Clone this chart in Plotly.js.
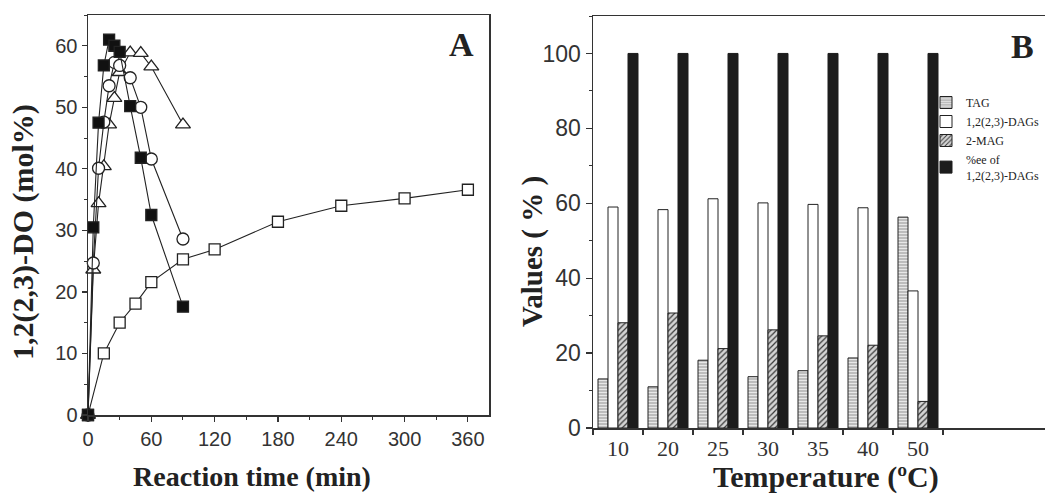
<!DOCTYPE html>
<html>
<head>
<meta charset="utf-8">
<script src="https://cdn.plot.ly/plotly-3.0.1.min.js"></script>
<style>html,body{margin:0;padding:0;background:#fff;}#chart{width:1045px;height:496px;}</style>
</head>
<body>
<div id="chart"></div>
<script>
// ---- Panel A data ----
const timeOpenSquare = [0, 15, 30, 45, 60, 90, 120, 180, 240, 300, 360];
const valOpenSquare  = [0, 10, 15, 18.1, 21.6, 25.3, 26.9, 31.4, 34, 35.2, 36.6];
const timeFilledSquare = [0, 5, 10, 15, 20, 25, 30, 40, 50, 60, 90];
const valFilledSquare  = [0, 30.5, 47.5, 56.8, 61, 60, 59, 50.2, 41.8, 32.5, 17.6];
const timeCircle = [0, 5, 10, 15, 20, 25, 30, 40, 50, 60, 90];
const valCircle  = [0, 24.7, 40.1, 47.6, 53.5, 57.3, 56.8, 54.8, 50, 41.6, 28.6];
const timeTriangle = [0, 5, 10, 15, 20, 25, 30, 40, 50, 60, 90];
const valTriangle  = [0, 23.6, 34.4, 40.4, 47.2, 51.5, 55.7, 58.9, 58.8, 56.6, 47.2];

// ---- Panel B data ----
const temperatures = ['10', '20', '25', '30', '35', '40', '50'];
const valTAG  = [13.1, 11, 18.1, 13.7, 15.3, 18.7, 56.3];
const valDAG  = [59, 58.3, 61.2, 60.1, 59.7, 58.8, 36.6];
const valMAG  = [28.1, 30.7, 21.2, 26.2, 24.6, 22.1, 7.1];
const valEE   = [100, 100, 100, 100, 100, 100, 100];

const W = 1045, H = 496;
const mL = 88, mR = 0, mT = 15, mB = 68;
const PW = W - mL - mR, PH = H - mT - mB;
const px = x => (x - mL) / PW;
const py = y => (H - mB - y) / PH;

const lineC = '#222';
function lineTrace(x, y, symbol, fill, size) {
  return {
    x: x, y: y, type: 'scatter', mode: 'lines+markers', xaxis: 'x', yaxis: 'y',
    showlegend: false, cliponaxis: false, hoverinfo: 'skip',
    line: {color: lineC, width: 1.1},
    marker: {symbol: symbol, size: size, color: fill, line: {color: lineC, width: 1.3}}
  };
}

const traces = [
  lineTrace(timeOpenSquare, valOpenSquare, 'square', '#fff', 11),
  lineTrace(timeTriangle, valTriangle, 'triangle-up', '#fff', 13),
  lineTrace(timeCircle, valCircle, 'circle', '#fff', 12),
  lineTrace(timeFilledSquare, valFilledSquare, 'square', '#111', 11),
  {
    x: temperatures, y: valTAG, type: 'bar', name: 'TAG', xaxis: 'x2', yaxis: 'y2',
    marker: {color: '#bdbdbd', line: {color: '#222', width: 1},
      pattern: {shape: '-', bgcolor: '#bdbdbd', fgcolor: '#ececec', size: 3, solidity: 0.3, fillmode: 'replace'}}
  },
  {
    x: temperatures, y: valDAG, type: 'bar', name: '1,2(2,3)-DAGs', xaxis: 'x2', yaxis: 'y2',
    marker: {color: '#ffffff', line: {color: '#222', width: 1}}
  },
  {
    x: temperatures, y: valMAG, type: 'bar', name: '2-MAG', xaxis: 'x2', yaxis: 'y2',
    marker: {color: '#cfcfcf', line: {color: '#222', width: 1},
      pattern: {shape: '/', bgcolor: '#d4d4d4', fgcolor: '#3a3a3a', size: 4, solidity: 0.3, fillmode: 'replace'}}
  },
  {
    x: temperatures, y: valEE, type: 'bar', name: '%ee of<br>1,2(2,3)-DAGs', xaxis: 'x2', yaxis: 'y2',
    marker: {color: '#1c1c1c', line: {color: '#1c1c1c', width: 1}}
  }
];

const sans = 'Liberation Sans, Arial, sans-serif';
const serif = 'Liberation Serif, Times New Roman, serif';
const axC = '#333';

const layout = {
  width: W, height: H,
  margin: {l: mL, r: mR, t: mT, b: mB},
  paper_bgcolor: '#fff', plot_bgcolor: '#fff',
  barmode: 'group', bargap: 0.2, bargroupgap: 0,
  showlegend: true,
  legend: {
    x: px(926), y: py(88), xanchor: 'left', yanchor: 'top',
    font: {family: serif, size: 12, color: '#222'},
    bgcolor: 'rgba(0,0,0,0)', tracegroupgap: 0, itemwidth: 30
  },
  xaxis: {
    domain: [0, px(489)], anchor: 'y', range: [0, 380],
    tickvals: [0, 60, 120, 180, 240, 300, 360],
    ticks: 'outside', ticklen: 5, tickwidth: 1.2, tickcolor: axC,
    minor: {dtick: 30, ticks: 'outside', ticklen: 3, tickcolor: axC, tickwidth: 1},
    showline: true, mirror: true, linecolor: axC, linewidth: 1.5,
    showgrid: false, zeroline: false,
    tickfont: {family: sans, size: 20, color: '#333'}
  },
  yaxis: {
    domain: [py(415), 1], anchor: 'x', range: [0, 65],
    tickvals: [0, 10, 20, 30, 40, 50, 60],
    ticks: 'outside', ticklen: 5, tickwidth: 1.2, tickcolor: axC,
    minor: {dtick: 5, ticks: 'outside', ticklen: 3, tickcolor: axC, tickwidth: 1},
    showline: true, mirror: true, linecolor: axC, linewidth: 1.5,
    showgrid: false, zeroline: false,
    tickfont: {family: sans, size: 20, color: '#333'}
  },
  xaxis2: {
    domain: [px(593), 1], anchor: 'y2', type: 'category',
    range: [-0.5, 8.54],
    ticks: 'outside', tickson: 'boundaries', ticklen: 5, tickwidth: 1.2, tickcolor: axC,
    showline: true, mirror: true, linecolor: axC, linewidth: 1.5,
    showgrid: false, zeroline: false,
    tickfont: {family: serif, size: 22, color: '#333'}
  },
  yaxis2: {
    domain: [0, py(16)], anchor: 'x2', range: [0, 110],
    tickvals: [0, 20, 40, 60, 80, 100],
    ticks: 'outside', ticklen: 6, tickwidth: 1.2, tickcolor: axC,
    minor: {dtick: 10, ticks: 'outside', ticklen: 3, tickcolor: axC, tickwidth: 1},
    showline: true, mirror: false, linecolor: axC, linewidth: 1.5,
    showgrid: false, zeroline: false,
    tickfont: {family: sans, size: 23, color: '#333'}
  },
  annotations: [
    {text: '<b>A</b>', xref: 'paper', yref: 'paper', x: px(461), y: py(45),
     xanchor: 'center', yanchor: 'middle', showarrow: false,
     font: {family: serif, size: 34, color: '#222'}},
    {text: '<b>B</b>', xref: 'paper', yref: 'paper', x: px(1022), y: py(46),
     xanchor: 'center', yanchor: 'middle', showarrow: false,
     font: {family: serif, size: 34, color: '#222'}},
    {text: '<b>Reaction time (min)</b>', xref: 'paper', yref: 'paper', x: px(252), y: py(477),
     xanchor: 'center', yanchor: 'middle', showarrow: false,
     font: {family: serif, size: 28, color: '#222'}},
    {text: '<b>Temperature (ºC)</b>', xref: 'paper', yref: 'paper', x: px(826), y: py(477),
     xanchor: 'center', yanchor: 'middle', showarrow: false,
     font: {family: serif, size: 30, color: '#222'}},
    {text: '<b>1,2(2,3)-DO (mol%)</b>', xref: 'paper', yref: 'paper', x: px(23), y: py(232),
     xanchor: 'center', yanchor: 'middle', showarrow: false, textangle: -90,
     font: {family: serif, size: 30, color: '#222'}},
    {text: '<b>Values ( % )</b>', xref: 'paper', yref: 'paper', x: px(532), y: py(252),
     xanchor: 'center', yanchor: 'middle', showarrow: false, textangle: -90,
     font: {family: serif, size: 29, color: '#222'}}
  ]
};

Plotly.newPlot('chart', traces, layout, {displayModeBar: false, staticPlot: true});
</script>
</body>
</html>
